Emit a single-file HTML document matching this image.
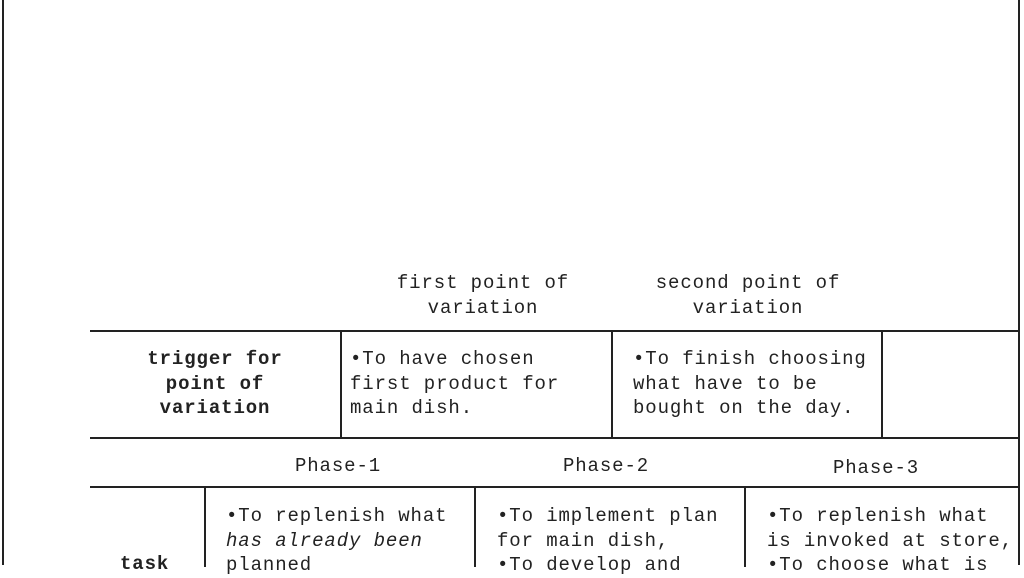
<!DOCTYPE html>
<html><head><style>
body{margin:0;width:1024px;height:565px;background:#fff;position:relative;overflow:hidden;font-family:"Liberation Mono",monospace;font-size:19px;letter-spacing:0.9px;color:#222}
.t{position:absolute;white-space:pre;line-height:24.5px}
.c{text-align:center}
.h{position:absolute;height:2px;background:#222}
.v{position:absolute;width:2px;background:#222}
b{font-weight:bold}
i{font-style:italic}
</style></head><body>
<div class="v" style="left:2px;top:0;height:565px"></div>
<div class="v" style="left:1018px;top:0;height:565px"></div>
<div class="h" style="left:90px;top:330px;width:930px"></div>
<div class="h" style="left:90px;top:437px;width:930px"></div>
<div class="h" style="left:90px;top:486px;width:930px"></div>
<div class="v" style="left:340px;top:331px;height:107px"></div>
<div class="v" style="left:611px;top:331px;height:107px"></div>
<div class="v" style="left:881px;top:331px;height:107px"></div>
<div class="v" style="left:204px;top:487px;height:80px"></div>
<div class="v" style="left:474px;top:487px;height:80px"></div>
<div class="v" style="left:744px;top:487px;height:80px"></div>

<div class="t c" style="left:378px;width:210px;top:271px">first point of
variation</div>
<div class="t c" style="left:643px;width:210px;top:271px">second point of
variation</div>

<div class="t c" style="left:90px;width:250px;top:347px"><b>trigger for
point of
variation</b></div>
<div class="t" style="left:350px;top:347px">•To have chosen
first product for
main dish.</div>
<div class="t" style="left:633px;top:347px">•To finish choosing
what have to be
bought on the day.</div>

<div class="t c" style="left:238px;width:200px;top:454px">Phase-1</div>
<div class="t c" style="left:506px;width:200px;top:454px">Phase-2</div>
<div class="t c" style="left:776px;width:200px;top:456px">Phase-3</div>

<div class="t" style="left:120px;top:552px"><b>task</b></div>
<div class="t" style="left:226px;top:504px">•To replenish what
<i>has already been</i>
planned</div>
<div class="t" style="left:497px;top:504px">•To implement plan
for main dish,
•To develop and</div>
<div class="t" style="left:767px;top:504px">•To replenish what
is invoked at store,
•To choose what is</div>
</body></html>
